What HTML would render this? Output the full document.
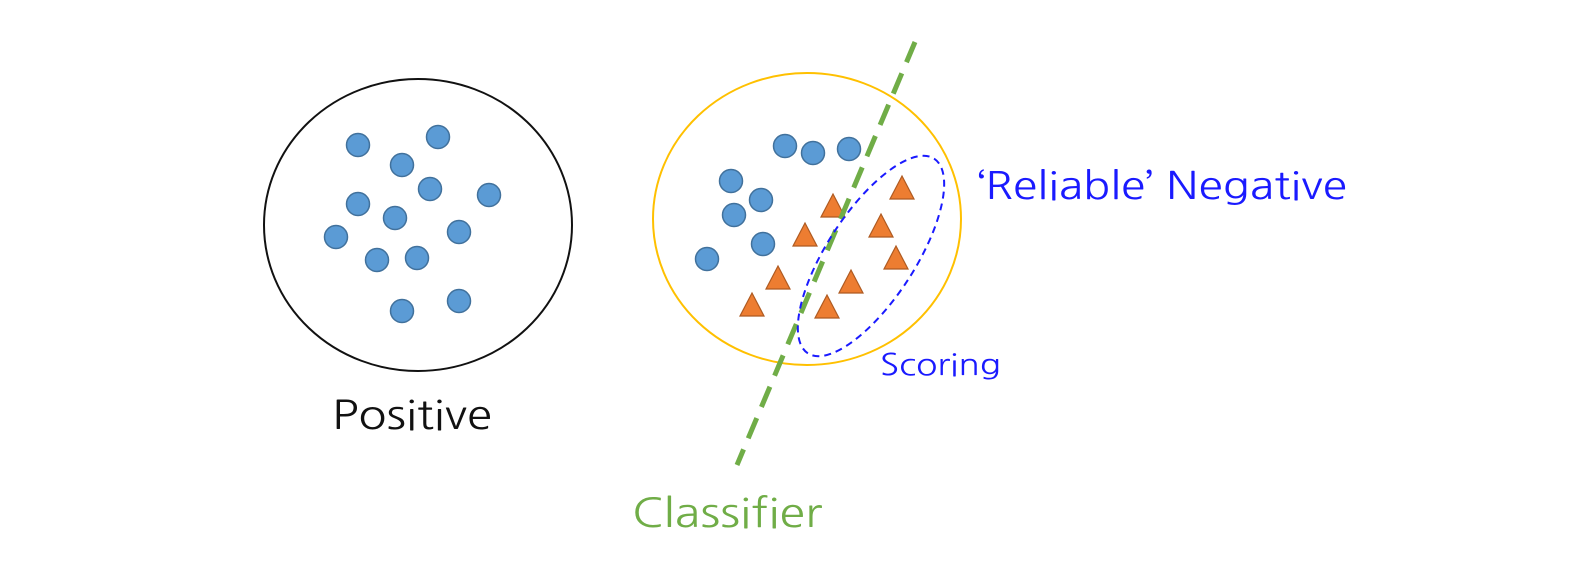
<!DOCTYPE html>
<html><head><meta charset="utf-8"><style>
html,body{margin:0;padding:0;background:#fff;}
svg{display:block;}
text{font-family:"NanumGothic","Liberation Sans",sans-serif;}
</style></head><body>
<svg width="1578" height="562" viewBox="0 0 1578 562">
<ellipse cx="418" cy="225" rx="154" ry="146" fill="none" stroke="#111" stroke-width="2"/>
<g fill="#5b9bd5" stroke="#41719c" stroke-width="1.5">
<circle cx="358" cy="145" r="11.5"/><circle cx="438" cy="137" r="11.5"/><circle cx="402" cy="165" r="11.5"/>
<circle cx="430" cy="189" r="11.5"/><circle cx="489" cy="195" r="11.5"/><circle cx="358" cy="204" r="11.5"/>
<circle cx="395" cy="218" r="11.5"/><circle cx="336" cy="237" r="11.5"/><circle cx="459" cy="232" r="11.5"/>
<circle cx="377" cy="260" r="11.5"/><circle cx="417" cy="258" r="11.5"/><circle cx="402" cy="311" r="11.5"/>
<circle cx="459" cy="301" r="11.5"/>
</g>
<text x="332" y="429" font-size="40" textLength="160" lengthAdjust="spacingAndGlyphs" fill="#111">Positive</text>

<ellipse cx="807" cy="219" rx="154" ry="146" fill="none" stroke="#ffc000" stroke-width="2"/>
<g fill="#5b9bd5" stroke="#41719c" stroke-width="1.5">
<circle cx="785" cy="146" r="11.5"/><circle cx="813" cy="153" r="11.5"/><circle cx="849" cy="149" r="11.5"/>
<circle cx="731" cy="181" r="11.5"/><circle cx="761" cy="200" r="11.5"/><circle cx="734" cy="215" r="11.5"/>
<circle cx="763" cy="244" r="11.5"/><circle cx="707" cy="259" r="11.5"/>
</g>
<g fill="#ed7d31" stroke="#ae5a21" stroke-width="1.2">
<polygon points="902,176 914,199 890,199"/>
<polygon points="833,194 845,217 821,217"/>
<polygon points="881,214 893,237 869,237"/>
<polygon points="805,223 817,246 793,246"/>
<polygon points="896,246 908,269 884,269"/>
<polygon points="778,266 790,289 766,289"/>
<polygon points="851,270 863,293 839,293"/>
<polygon points="752,293 764,316 740,316"/>
<polygon points="827,295 839,318 815,318"/>
</g>
<line x1="915" y1="42" x2="737" y2="465" stroke="#70ad47" stroke-width="5" stroke-dasharray="22,12"/>
<ellipse cx="871" cy="256" rx="116" ry="44" transform="rotate(-57 871 256)" fill="none" stroke="#1a1aff" stroke-width="2" stroke-dasharray="7,5"/>
<text x="977" y="199" font-size="38" textLength="370" lengthAdjust="spacingAndGlyphs" fill="#1a1aff">‘Reliable’ Negative</text>
<text x="880" y="375" font-size="30" textLength="121" lengthAdjust="spacingAndGlyphs" fill="#1a1aff">Scoring</text>
<text x="632" y="527" font-size="40" textLength="190" lengthAdjust="spacingAndGlyphs" fill="#70ad47">Classifier</text>
</svg>
</body></html>
